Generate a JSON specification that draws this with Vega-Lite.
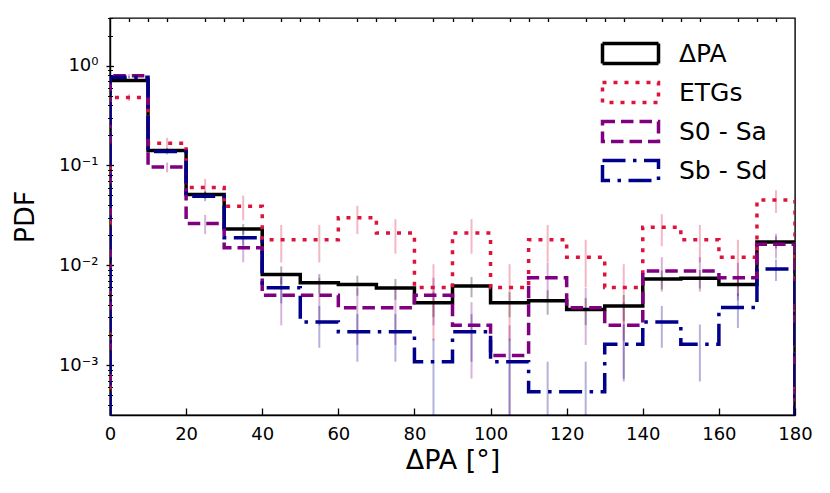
{
  "$schema": "https://vega.github.io/schema/vega-lite/v6.json",
  "width": 685,
  "height": 397,
  "autosize": {"type": "none"},
  "padding": {"left": 110, "top": 18, "right": 35, "bottom": 78},
  "config": {
    "view": {"stroke": "black", "strokeWidth": 1.4},
    "font": "DejaVu Sans",
    "axis": {
      "labelFont": "DejaVu Sans",
      "titleFont": "DejaVu Sans",
      "labelColor": "black",
      "titleColor": "black",
      "tickColor": "black",
      "domainColor": "black",
      "grid": false,
      "labelFontSize": 18,
      "titleFontSize": 27,
      "titleFontWeight": "normal",
      "tickWidth": 1.3,
      "domainWidth": 1.4
    },
    "legend": {
      "orient": "none", "legendX": 508, "legendY": 23, "padding": 0,
      "symbolType": "M-2.8,-1H2.8V1H-2.8Z", "symbolSize": 400, "symbolStrokeWidth": 3.5, "symbolOpacity": 1,
      "labelFontSize": 25, "labelFont": "DejaVu Sans", "labelColor": "black", "labelOffset": 36, "rowPadding": 4
    }
  },
  "datasets": {
    "steps": [
      {"s": "ΔPA", "i": 0, "x": 0, "v": 1e-6},
      {"s": "ΔPA", "i": 1, "x": 0, "v": 0.71},
      {"s": "ΔPA", "i": 2, "x": 10, "v": 0.141},
      {"s": "ΔPA", "i": 3, "x": 20, "v": 0.051},
      {"s": "ΔPA", "i": 4, "x": 30, "v": 0.0231},
      {"s": "ΔPA", "i": 5, "x": 40, "v": 0.0081},
      {"s": "ΔPA", "i": 6, "x": 50, "v": 0.00667},
      {"s": "ΔPA", "i": 7, "x": 60, "v": 0.0064},
      {"s": "ΔPA", "i": 8, "x": 70, "v": 0.0059},
      {"s": "ΔPA", "i": 9, "x": 80, "v": 0.0042},
      {"s": "ΔPA", "i": 10, "x": 90, "v": 0.0062},
      {"s": "ΔPA", "i": 11, "x": 100, "v": 0.0042},
      {"s": "ΔPA", "i": 12, "x": 110, "v": 0.0044},
      {"s": "ΔPA", "i": 13, "x": 120, "v": 0.0036},
      {"s": "ΔPA", "i": 14, "x": 130, "v": 0.0039},
      {"s": "ΔPA", "i": 15, "x": 140, "v": 0.0073},
      {"s": "ΔPA", "i": 16, "x": 150, "v": 0.0074},
      {"s": "ΔPA", "i": 17, "x": 160, "v": 0.0064},
      {"s": "ΔPA", "i": 18, "x": 170, "v": 0.0171},
      {"s": "ΔPA", "i": 19, "x": 180, "v": 0.0171},
      {"s": "ΔPA", "i": 20, "x": 180, "v": 1e-6},

      {"s": "ETGs", "i": 0, "x": 0, "v": 1e-6},
      {"s": "ETGs", "i": 1, "x": 0, "v": 0.48},
      {"s": "ETGs", "i": 2, "x": 10, "v": 0.167},
      {"s": "ETGs", "i": 3, "x": 20, "v": 0.06},
      {"s": "ETGs", "i": 4, "x": 30, "v": 0.039},
      {"s": "ETGs", "i": 5, "x": 40, "v": 0.018},
      {"s": "ETGs", "i": 6, "x": 50, "v": 0.018},
      {"s": "ETGs", "i": 7, "x": 60, "v": 0.03},
      {"s": "ETGs", "i": 8, "x": 70, "v": 0.021},
      {"s": "ETGs", "i": 9, "x": 80, "v": 0.006},
      {"s": "ETGs", "i": 10, "x": 90, "v": 0.021},
      {"s": "ETGs", "i": 11, "x": 100, "v": 0.006},
      {"s": "ETGs", "i": 12, "x": 110, "v": 0.018},
      {"s": "ETGs", "i": 13, "x": 120, "v": 0.012},
      {"s": "ETGs", "i": 14, "x": 130, "v": 0.006},
      {"s": "ETGs", "i": 15, "x": 140, "v": 0.024},
      {"s": "ETGs", "i": 16, "x": 150, "v": 0.018},
      {"s": "ETGs", "i": 17, "x": 160, "v": 0.012},
      {"s": "ETGs", "i": 18, "x": 170, "v": 0.045},
      {"s": "ETGs", "i": 19, "x": 180, "v": 0.045},
      {"s": "ETGs", "i": 20, "x": 180, "v": 1e-6},

      {"s": "S0 - Sa", "i": 0, "x": 0, "v": 1e-6},
      {"s": "S0 - Sa", "i": 1, "x": 0, "v": 0.79},
      {"s": "S0 - Sa", "i": 2, "x": 10, "v": 0.09625},
      {"s": "S0 - Sa", "i": 3, "x": 20, "v": 0.02625},
      {"s": "S0 - Sa", "i": 4, "x": 30, "v": 0.015},
      {"s": "S0 - Sa", "i": 5, "x": 40, "v": 0.005},
      {"s": "S0 - Sa", "i": 6, "x": 50, "v": 0.005},
      {"s": "S0 - Sa", "i": 7, "x": 60, "v": 0.00375},
      {"s": "S0 - Sa", "i": 8, "x": 70, "v": 0.00375},
      {"s": "S0 - Sa", "i": 9, "x": 80, "v": 0.005},
      {"s": "S0 - Sa", "i": 10, "x": 90, "v": 0.0025},
      {"s": "S0 - Sa", "i": 11, "x": 100, "v": 0.00125},
      {"s": "S0 - Sa", "i": 12, "x": 110, "v": 0.0075},
      {"s": "S0 - Sa", "i": 13, "x": 120, "v": 0.00375},
      {"s": "S0 - Sa", "i": 14, "x": 130, "v": 0.0025},
      {"s": "S0 - Sa", "i": 15, "x": 140, "v": 0.00875},
      {"s": "S0 - Sa", "i": 16, "x": 150, "v": 0.00875},
      {"s": "S0 - Sa", "i": 17, "x": 160, "v": 0.0075},
      {"s": "S0 - Sa", "i": 18, "x": 170, "v": 0.01625},
      {"s": "S0 - Sa", "i": 19, "x": 180, "v": 0.01625},
      {"s": "S0 - Sa", "i": 20, "x": 180, "v": 1e-6},

      {"s": "Sb - Sd", "i": 0, "x": 0, "v": 1e-6},
      {"s": "Sb - Sd", "i": 1, "x": 0, "v": 0.765},
      {"s": "Sb - Sd", "i": 2, "x": 10, "v": 0.138},
      {"s": "Sb - Sd", "i": 3, "x": 20, "v": 0.0491},
      {"s": "Sb - Sd", "i": 4, "x": 30, "v": 0.0189},
      {"s": "Sb - Sd", "i": 5, "x": 40, "v": 0.00594},
      {"s": "Sb - Sd", "i": 6, "x": 50, "v": 0.0027},
      {"s": "Sb - Sd", "i": 7, "x": 60, "v": 0.00216},
      {"s": "Sb - Sd", "i": 8, "x": 70, "v": 0.00216},
      {"s": "Sb - Sd", "i": 9, "x": 80, "v": 0.00108},
      {"s": "Sb - Sd", "i": 10, "x": 90, "v": 0.00216},
      {"s": "Sb - Sd", "i": 11, "x": 100, "v": 0.00108},
      {"s": "Sb - Sd", "i": 12, "x": 110, "v": 0.00054},
      {"s": "Sb - Sd", "i": 13, "x": 120, "v": 0.00054},
      {"s": "Sb - Sd", "i": 14, "x": 130, "v": 0.00162},
      {"s": "Sb - Sd", "i": 15, "x": 140, "v": 0.0027},
      {"s": "Sb - Sd", "i": 16, "x": 150, "v": 0.00162},
      {"s": "Sb - Sd", "i": 17, "x": 160, "v": 0.00378},
      {"s": "Sb - Sd", "i": 18, "x": 170, "v": 0.00918},
      {"s": "Sb - Sd", "i": 19, "x": 180, "v": 0.00918},
      {"s": "Sb - Sd", "i": 20, "x": 180, "v": 1e-6}
    ],
    "errs": [
      {"s": "ΔPA", "x": 5, "lo": 0.695, "hi": 0.725},
      {"s": "ΔPA", "x": 15, "lo": 0.134, "hi": 0.148},
      {"s": "ΔPA", "x": 25, "lo": 0.0469, "hi": 0.0551},
      {"s": "ΔPA", "x": 35, "lo": 0.0203, "hi": 0.0259},
      {"s": "ΔPA", "x": 45, "lo": 0.00646, "hi": 0.00974},
      {"s": "ΔPA", "x": 55, "lo": 0.00519, "hi": 0.00815},
      {"s": "ΔPA", "x": 65, "lo": 0.00495, "hi": 0.00785},
      {"s": "ΔPA", "x": 75, "lo": 0.00451, "hi": 0.00729},
      {"s": "ΔPA", "x": 85, "lo": 0.00302, "hi": 0.00538},
      {"s": "ΔPA", "x": 95, "lo": 0.00477, "hi": 0.00763},
      {"s": "ΔPA", "x": 105, "lo": 0.00302, "hi": 0.00538},
      {"s": "ΔPA", "x": 115, "lo": 0.00319, "hi": 0.00561},
      {"s": "ΔPA", "x": 125, "lo": 0.00251, "hi": 0.00469},
      {"s": "ΔPA", "x": 135, "lo": 0.00277, "hi": 0.00503},
      {"s": "ΔPA", "x": 145, "lo": 0.00574, "hi": 0.00886},
      {"s": "ΔPA", "x": 155, "lo": 0.00584, "hi": 0.00896},
      {"s": "ΔPA", "x": 165, "lo": 0.00495, "hi": 0.00785},
      {"s": "ΔPA", "x": 175, "lo": 0.0147, "hi": 0.0195},

      {"s": "ETGs", "x": 5, "lo": 0.442, "hi": 0.518},
      {"s": "ETGs", "x": 15, "lo": 0.145, "hi": 0.189},
      {"s": "ETGs", "x": 25, "lo": 0.0466, "hi": 0.0734},
      {"s": "ETGs", "x": 35, "lo": 0.0282, "hi": 0.0498},
      {"s": "ETGs", "x": 45, "lo": 0.01065, "hi": 0.02535},
      {"s": "ETGs", "x": 55, "lo": 0.01065, "hi": 0.02535},
      {"s": "ETGs", "x": 65, "lo": 0.0205, "hi": 0.0395},
      {"s": "ETGs", "x": 75, "lo": 0.01306, "hi": 0.02894},
      {"s": "ETGs", "x": 85, "lo": 0.00176, "hi": 0.01024},
      {"s": "ETGs", "x": 95, "lo": 0.01306, "hi": 0.02894},
      {"s": "ETGs", "x": 105, "lo": 0.00176, "hi": 0.01024},
      {"s": "ETGs", "x": 115, "lo": 0.01065, "hi": 0.02535},
      {"s": "ETGs", "x": 125, "lo": 0.006, "hi": 0.018},
      {"s": "ETGs", "x": 135, "lo": 0.00176, "hi": 0.01024},
      {"s": "ETGs", "x": 145, "lo": 0.0155, "hi": 0.0325},
      {"s": "ETGs", "x": 155, "lo": 0.01065, "hi": 0.02535},
      {"s": "ETGs", "x": 165, "lo": 0.006, "hi": 0.018},
      {"s": "ETGs", "x": 175, "lo": 0.0334, "hi": 0.0566},

      {"s": "S0 - Sa", "x": 5, "lo": 0.759, "hi": 0.821},
      {"s": "S0 - Sa", "x": 15, "lo": 0.0852, "hi": 0.107},
      {"s": "S0 - Sa", "x": 25, "lo": 0.0205, "hi": 0.032},
      {"s": "S0 - Sa", "x": 35, "lo": 0.0107, "hi": 0.0193},
      {"s": "S0 - Sa", "x": 45, "lo": 0.0025, "hi": 0.0075},
      {"s": "S0 - Sa", "x": 55, "lo": 0.0025, "hi": 0.0075},
      {"s": "S0 - Sa", "x": 65, "lo": 0.00159, "hi": 0.00591},
      {"s": "S0 - Sa", "x": 75, "lo": 0.00159, "hi": 0.00591},
      {"s": "S0 - Sa", "x": 85, "lo": 0.0025, "hi": 0.0075},
      {"s": "S0 - Sa", "x": 95, "lo": 0.000732, "hi": 0.00427},
      {"s": "S0 - Sa", "x": 105, "lo": 1e-6, "hi": 0.0025},
      {"s": "S0 - Sa", "x": 115, "lo": 0.00444, "hi": 0.01056},
      {"s": "S0 - Sa", "x": 125, "lo": 0.00159, "hi": 0.00591},
      {"s": "S0 - Sa", "x": 135, "lo": 0.000732, "hi": 0.00427},
      {"s": "S0 - Sa", "x": 145, "lo": 0.00544, "hi": 0.01206},
      {"s": "S0 - Sa", "x": 155, "lo": 0.00544, "hi": 0.01206},
      {"s": "S0 - Sa", "x": 165, "lo": 0.00444, "hi": 0.01056},
      {"s": "S0 - Sa", "x": 175, "lo": 0.01175, "hi": 0.02075},

      {"s": "Sb - Sd", "x": 5, "lo": 0.745, "hi": 0.785},
      {"s": "Sb - Sd", "x": 15, "lo": 0.129, "hi": 0.147},
      {"s": "Sb - Sd", "x": 25, "lo": 0.0439, "hi": 0.0543},
      {"s": "Sb - Sd", "x": 35, "lo": 0.0157, "hi": 0.0221},
      {"s": "Sb - Sd", "x": 45, "lo": 0.00415, "hi": 0.00773},
      {"s": "Sb - Sd", "x": 55, "lo": 0.00149, "hi": 0.00391},
      {"s": "Sb - Sd", "x": 65, "lo": 0.00108, "hi": 0.00324},
      {"s": "Sb - Sd", "x": 75, "lo": 0.00108, "hi": 0.00324},
      {"s": "Sb - Sd", "x": 85, "lo": 0.000316, "hi": 0.00184},
      {"s": "Sb - Sd", "x": 95, "lo": 0.00108, "hi": 0.00324},
      {"s": "Sb - Sd", "x": 105, "lo": 0.000316, "hi": 0.00184},
      {"s": "Sb - Sd", "x": 115, "lo": 1e-6, "hi": 0.00108},
      {"s": "Sb - Sd", "x": 125, "lo": 1e-6, "hi": 0.00108},
      {"s": "Sb - Sd", "x": 135, "lo": 0.000685, "hi": 0.00255},
      {"s": "Sb - Sd", "x": 145, "lo": 0.00149, "hi": 0.00391},
      {"s": "Sb - Sd", "x": 155, "lo": 0.000685, "hi": 0.00255},
      {"s": "Sb - Sd", "x": 165, "lo": 0.00235, "hi": 0.00521},
      {"s": "Sb - Sd", "x": 175, "lo": 0.00695, "hi": 0.0114}
    ]
  },
  "layer": [
    {
      "data": {"name": "errs"},
      "mark": {"type": "rule", "strokeWidth": 2, "opacity": 0.3, "clip": true},
      "encoding": {
        "x": {
          "field": "x", "type": "quantitative",
          "scale": {"domain": [0, 180], "nice": false, "zero": false},
          "axis": {
            "values": [0, 20, 40, 60, 80, 100, 120, 140, 160, 180],
            "tickSize": -7, "labelPadding": 17, "labelFlush": false, "labelOverlap": false, "labelBound": false,
            "title": "ΔPA [°]", "titlePadding": 4
          }
        },
        "y": {
          "field": "lo", "type": "quantitative",
          "scale": {"type": "log", "domain": [0.000316, 3.0], "nice": false},
          "axis": {
            "values": [0.001, 0.01, 0.1, 1],
            "labelExpr": "datum.value >= 0.5 ? '10⁰' : datum.value >= 0.05 ? '10⁻¹' : datum.value >= 0.005 ? '10⁻²' : '10⁻³'",
            "tickSize": 4, "labelPadding": 8, "labelOverlap": false, "labelFlush": false, "labelBound": false,
            "title": "PDF", "titlePadding": 19
          }
        },
        "y2": {"field": "hi"},
        "color": {
          "field": "s", "type": "nominal",
          "scale": {"domain": ["ΔPA", "ETGs", "S0 - Sa", "Sb - Sd"], "range": ["black", "crimson", "purple", "darkblue"]},
          "title": null
        }
      }
    },
    {
      "data": {"name": "steps"},
      "transform": [{"filter": "datum.s === 'ΔPA'"}],
      "mark": {"type": "line", "interpolate": "step-after", "strokeWidth": 3.5, "clip": true},
      "encoding": {
        "x": {
          "field": "x", "type": "quantitative",
          "scale": {"domain": [0, 180], "nice": false, "zero": false},
          "axis": {
            "values": [5, 10, 15, 25, 30, 35, 45, 50, 55, 65, 70, 75, 85, 90, 95, 105, 110, 115, 125, 130, 135, 145, 150, 155, 165, 170, 175],
            "tickSize": -3.5, "labels": false, "domain": false, "title": null
          }
        },
        "y": {
          "field": "v", "type": "quantitative",
          "scale": {"type": "log", "domain": [0.000316, 3.0], "nice": false},
          "axis": {"orient": "left", "values": [0.001, 0.01, 0.1, 1], "tickSize": -3.5, "labels": false, "domain": false, "title": null}
        },
        "order": {"field": "i", "type": "quantitative"},
        "color": {
          "field": "s", "type": "nominal",
          "scale": {"domain": ["ΔPA", "ETGs", "S0 - Sa", "Sb - Sd"], "range": ["black", "crimson", "purple", "darkblue"]},
          "title": null
        },
        "strokeDash": {
          "field": "s", "type": "nominal",
          "scale": {"domain": ["ΔPA", "ETGs", "S0 - Sa", "Sb - Sd"], "range": [[1, 0], [4, 7], [12.5, 6], [23, 7.5, 3.5, 7.5]]},
          "title": null
        }
      }
    },
    {
      "data": {"name": "steps"},
      "transform": [{"filter": "datum.s === 'ETGs'"}],
      "mark": {"type": "line", "interpolate": "step-after", "strokeWidth": 3.5, "clip": true},
      "encoding": {
        "x": {"field": "x", "type": "quantitative", "scale": {"domain": [0, 180], "nice": false, "zero": false}, "axis": null},
        "y": {
          "field": "v", "type": "quantitative",
          "scale": {"type": "log", "domain": [0.000316, 3.0], "nice": false},
          "axis": {
            "orient": "left",
            "values": [0.0004, 0.0005, 0.0006, 0.0007, 0.0008, 0.0009, 0.002, 0.003, 0.004, 0.005, 0.006, 0.007, 0.008, 0.009, 0.02, 0.03, 0.04, 0.05, 0.06, 0.07, 0.08, 0.09, 0.2, 0.3, 0.4, 0.5, 0.6, 0.7, 0.8, 0.9, 2, 3],
            "tickSize": 2.5, "tickWidth": 1, "labels": false, "domain": false, "title": null
          }
        },
        "order": {"field": "i", "type": "quantitative"},
        "color": {"field": "s", "type": "nominal", "scale": {"domain": ["ΔPA", "ETGs", "S0 - Sa", "Sb - Sd"], "range": ["black", "crimson", "purple", "darkblue"]}, "title": null},
        "strokeDash": {"field": "s", "type": "nominal", "scale": {"domain": ["ΔPA", "ETGs", "S0 - Sa", "Sb - Sd"], "range": [[1, 0], [4, 7], [12.5, 6], [23, 7.5, 3.5, 7.5]]}, "title": null}
      }
    },
    {
      "data": {"name": "steps"},
      "transform": [{"filter": "datum.s === 'S0 - Sa'"}],
      "mark": {"type": "line", "interpolate": "step-after", "strokeWidth": 3.5, "clip": true},
      "encoding": {
        "x": {"field": "x", "type": "quantitative", "scale": {"domain": [0, 180], "nice": false, "zero": false}, "axis": null},
        "y": {
          "field": "v", "type": "quantitative",
          "scale": {"type": "log", "domain": [0.000316, 3.0], "nice": false},
          "axis": {
            "orient": "left",
            "values": [0.0004, 0.0005, 0.0006, 0.0007, 0.0008, 0.0009, 0.002, 0.003, 0.004, 0.005, 0.006, 0.007, 0.008, 0.009, 0.02, 0.03, 0.04, 0.05, 0.06, 0.07, 0.08, 0.09, 0.2, 0.3, 0.4, 0.5, 0.6, 0.7, 0.8, 0.9, 2, 3],
            "tickSize": -2.5, "tickWidth": 1, "labels": false, "domain": false, "title": null
          }
        },
        "order": {"field": "i", "type": "quantitative"},
        "color": {"field": "s", "type": "nominal", "scale": {"domain": ["ΔPA", "ETGs", "S0 - Sa", "Sb - Sd"], "range": ["black", "crimson", "purple", "darkblue"]}, "title": null},
        "strokeDash": {"field": "s", "type": "nominal", "scale": {"domain": ["ΔPA", "ETGs", "S0 - Sa", "Sb - Sd"], "range": [[1, 0], [4, 7], [12.5, 6], [23, 7.5, 3.5, 7.5]]}, "title": null}
      }
    },
    {
      "data": {"name": "steps"},
      "transform": [{"filter": "datum.s === 'Sb - Sd'"}],
      "mark": {"type": "line", "interpolate": "step-after", "strokeWidth": 3.5, "clip": true},
      "encoding": {
        "x": {"field": "x", "type": "quantitative", "scale": {"domain": [0, 180], "nice": false, "zero": false}, "axis": null},
        "y": {"field": "v", "type": "quantitative", "scale": {"type": "log", "domain": [0.000316, 3.0], "nice": false}, "axis": null},
        "order": {"field": "i", "type": "quantitative"},
        "color": {"field": "s", "type": "nominal", "scale": {"domain": ["ΔPA", "ETGs", "S0 - Sa", "Sb - Sd"], "range": ["black", "crimson", "purple", "darkblue"]}, "title": null},
        "strokeDash": {"field": "s", "type": "nominal", "scale": {"domain": ["ΔPA", "ETGs", "S0 - Sa", "Sb - Sd"], "range": [[1, 0], [4, 7], [12.5, 6], [23, 7.5, 3.5, 7.5]]}, "title": null}
      }
    }
  ],
  "resolve": {"axis": {"x": "independent", "y": "independent"}}
}
